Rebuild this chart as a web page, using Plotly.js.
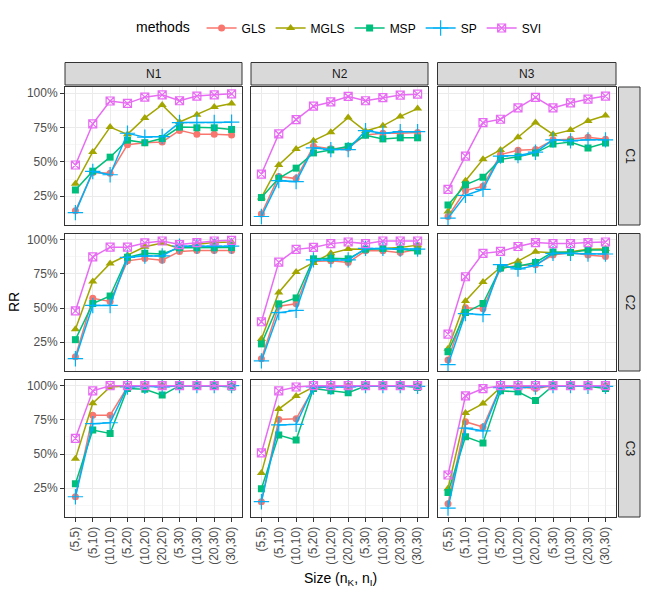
<!DOCTYPE html>
<html lang="en">
<head>
    <meta charset="UTF-8">
    <title>RR by size</title>
    <script src="https://cdn.plot.ly/plotly-3.0.1.min.js"></script>
    <style>
        body { margin: 0; background: #fff; }
    </style>
</head>
<body>

<div id="chart" style="width:648px;height:598px;"></div>

<script>
    // x categories and facet labels
    let sizes = ['(5,5)', '(5,10)', '(10,10)', '(5,20)', '(10,20)', '(20,20)', '(5,30)', '(10,30)', '(20,30)', '(30,30)'];
    let colLabels = ['N1', 'N2', 'N3'];
    let rowLabels = ['C1', 'C2', 'C3'];
    let methods = ['GLS', 'MGLS', 'MSP', 'SP', 'SVI'];

    // RR (%) per panel, panel order: C1/N1, C1/N2, C1/N3, C2/N1 ... C3/N3
    let rrGLS = [
        [14.3, 42.3, 41.6, 62.5, 63.9, 64.4, 72.9, 70, 70, 69.6],
        [12, 39.4, 37.8, 61.3, 59.6, 60.1, 69.6, 70.8, 70.8, 71.3],
        [10.2, 29.2, 32.3, 55.3, 58.4, 58.9, 66, 66.5, 67.9, 66.5],
        [14.5, 57.1, 54.8, 84.5, 86.2, 85, 91.4, 92.1, 92.1, 92.1],
        [13, 51.4, 53.1, 84, 84.5, 83.3, 91.9, 91.9, 90.5, 92.9],
        [12.1, 50.2, 49.5, 79, 81.2, 81.7, 88.8, 90.5, 88.8, 87.6],
        [18.8, 78.4, 78.4, 99, 100, 100, 100, 100, 100, 100],
        [15.2, 75.3, 75.8, 97.9, 99.5, 99.5, 100, 100, 100, 100],
        [13.6, 73.6, 69.8, 99, 99, 97.9, 100, 100, 100, 100]
    ];
    let rrMGLS = [
        [34, 57.2, 75.3, 70, 82, 91.4, 79, 84.3, 90, 92.4],
        [24, 47.7, 59.4, 65.3, 71.5, 82.2, 72.4, 76.2, 83.1, 88.8],
        [13.8, 36.3, 51.8, 58.7, 67.9, 78.6, 70, 73.1, 79.8, 83.8],
        [34.5, 69.5, 82.6, 88.6, 94.8, 97.6, 93.6, 96.7, 97.9, 98.3],
        [27.4, 61.4, 76.4, 82.9, 90, 93.1, 92.9, 93.6, 94.3, 96],
        [20.2, 55.2, 69, 79.8, 84.3, 91.2, 90.5, 91.2, 92.9, 93.1],
        [46.6, 87.2, 99, 99.8, 100, 100, 100, 100, 100, 100],
        [36.1, 82.9, 92.4, 99, 99.5, 99.8, 100, 100, 100, 99.5],
        [24.9, 80, 86.9, 98.6, 99.5, 99.5, 100, 100, 100, 100]
    ];
    let rrMSP = [
        [29.5, 43.2, 53.4, 65.8, 63.9, 67, 75.3, 74.8, 74.8, 73.6],
        [24, 38, 45.4, 56.5, 58.7, 61.3, 69.4, 66.7, 67.5, 67.5],
        [18.5, 33.3, 38.7, 51.8, 53.7, 56.5, 62.9, 64.4, 60.1, 63.7],
        [26.9, 53.3, 58.8, 87.1, 90, 89.5, 94, 94, 94, 94.3],
        [23.8, 53.1, 57.4, 86, 86.4, 86, 92.9, 93.6, 92.9, 91.7],
        [18.1, 46.7, 53.3, 79.3, 80.5, 83.3, 91, 90.7, 92.4, 92.4],
        [28.3, 67.5, 65.1, 97.9, 97.4, 93.1, 100, 100, 100, 99],
        [24.7, 63.9, 60.3, 97.9, 96.2, 94.8, 99.8, 100, 100, 98.6],
        [21.9, 62.7, 58, 96.2, 95.5, 89.1, 100, 100, 99.5, 97.9]
    ];
    let rrSP = [
        [13, 43, 40.6, 70.8, 68, 68.4, 78.6, 78.6, 78.6, 78.9],
        [10.2, 36.3, 35.6, 60.1, 58.9, 58.9, 72.7, 70.8, 72, 72],
        [9, 25.6, 30, 54.2, 54.6, 57, 66, 65.3, 66, 66],
        [13, 51.9, 51.9, 87.1, 88.1, 88.1, 95.2, 95.2, 95.2, 95.2],
        [11.4, 46.7, 48.3, 85.2, 85.2, 85.2, 93.6, 93.6, 93.1, 93.1],
        [8.6, 46, 45.2, 81.7, 78.6, 81, 90, 90, 89.5, 89.5],
        [18.8, 72.2, 72.9, 99, 99.5, 99, 100, 100, 100, 100],
        [15.2, 71.3, 71.7, 99, 99, 99, 100, 100, 100, 99.5],
        [10.5, 68.9, 67, 98.6, 98.6, 99, 100, 100, 99.5, 99.5]
    ];
    let rrSVI = [
        [47.7, 77.7, 94.3, 92.6, 97.1, 98.8, 94.5, 97.9, 98.8, 99.5],
        [41.1, 70.3, 80.8, 90.5, 93.6, 97.6, 94.5, 96.7, 98.6, 99.3],
        [30, 54.2, 78.6, 81, 89.3, 96.9, 89.3, 92.9, 95.7, 97.9],
        [47.9, 87.4, 94.5, 94.5, 97.6, 99, 96.4, 97.9, 99, 99.5],
        [40, 83.6, 92.9, 94.3, 97.1, 98.3, 97.1, 99, 99, 99],
        [31, 72.9, 90, 91.4, 95, 97.9, 97.1, 97.1, 97.9, 98.3],
        [61.5, 96.2, 100, 100, 100, 100, 100, 100, 100, 100],
        [50.8, 96.2, 99, 100, 100, 100, 100, 100, 100, 100],
        [34.7, 92.6, 97.9, 100, 100, 100, 100, 100, 100, 100]
    ];

    let rrByMethod = [rrGLS, rrMGLS, rrMSP, rrSP, rrSVI];
    let colors = ['#F8766D', '#A3A500', '#00BF7D', '#00B0F6', '#E76BF3'];
    let symbols = ['circle', 'triangle-up', 'square', 'cross-thin-open', 'square-x-open'];
    let markerSizes = [7, 8, 7, 11, 8];

    // panel geometry in pixels (648 x 598)
    let W = 648, H = 598;
    let colPx = [[65, 242], [251, 428], [437.5, 616]];
    let rowPx = [[87, 225], [233.5, 371], [379.5, 517]];
    let font = 'Liberation Sans, Arial, sans-serif';

    let data = [];
    let layout = {
        width: W,
        height: H,
        margin: {l: 0, r: 0, t: 0, b: 0},
        paper_bgcolor: '#ffffff',
        plot_bgcolor: '#ffffff',
        font: {family: font, size: 12, color: '#4D4D4D'},
        showlegend: true,
        legend: {
            orientation: 'h',
            x: 340 / W, xanchor: 'center',
            y: 1 - 28 / H, yanchor: 'middle',
            title: {text: 'methods ', side: 'left', font: {size: 14, color: '#000000'}},
            font: {size: 12, color: '#000000'},
            itemwidth: 30,
            traceorder: 'normal'
        },
        shapes: [],
        annotations: []
    };

    for (let r = 0; r < 3; r++) {
        for (let c = 0; c < 3; c++) {
            let p = r * 3 + c;
            let n = p + 1;
            let xName = 'xaxis' + (n === 1 ? '' : n);
            let yName = 'yaxis' + (n === 1 ? '' : n);
            let xRef = 'x' + (n === 1 ? '' : n);
            let yRef = 'y' + (n === 1 ? '' : n);

            layout[xName] = {
                domain: [colPx[c][0] / W, colPx[c][1] / W],
                anchor: yRef,
                type: 'category',
                categoryorder: 'array',
                categoryarray: sizes,
                range: [-0.6, 9.6],
                showgrid: true,
                gridcolor: '#EBEBEB',
                gridwidth: 1,
                zeroline: false,
                showline: true,
                mirror: true,
                linecolor: '#333333',
                linewidth: 1,
                ticks: r === 2 ? 'outside' : '',
                ticklen: 4,
                tickcolor: '#333333',
                tickangle: -90,
                showticklabels: r === 2,
                tickfont: {size: 12, color: '#4D4D4D'}
            };
            layout[yName] = {
                domain: [1 - rowPx[r][1] / H, 1 - rowPx[r][0] / H],
                anchor: xRef,
                range: [4, 104.5],
                tick0: 0,
                dtick: 25,
                ticksuffix: '%',
                showgrid: true,
                gridcolor: '#EBEBEB',
                gridwidth: 1,
                minor: {dtick: 12.5, showgrid: true, gridcolor: '#F4F4F4', gridwidth: 0.7},
                zeroline: false,
                showline: true,
                mirror: true,
                linecolor: '#333333',
                linewidth: 1,
                ticks: c === 0 ? 'outside' : '',
                ticklen: 4,
                tickcolor: '#333333',
                showticklabels: c === 0,
                tickfont: {size: 12, color: '#4D4D4D'}
            };

            for (let m = 0; m < methods.length; m++) {
                let isOpen = symbols[m].indexOf('open') >= 0;
                data.push({
                    x: sizes,
                    y: rrByMethod[m][p],
                    xaxis: xRef,
                    yaxis: yRef,
                    type: 'scatter',
                    mode: 'lines+markers',
                    name: methods[m],
                    legendgroup: methods[m],
                    showlegend: p === 0,
                    line: {color: colors[m], width: 1.5},
                    marker: {
                        color: colors[m],
                        symbol: symbols[m],
                        size: markerSizes[m],
                        line: {color: colors[m], width: isOpen ? 1.2 : 0}
                    },
                    hoverinfo: 'x+y+name'
                });
            }
        }
    }

    // top strips
    for (let c = 0; c < 3; c++) {
        layout.shapes.push({
            type: 'rect', xref: 'paper', yref: 'paper',
            x0: colPx[c][0] / W, x1: colPx[c][1] / W,
            y0: 1 - 85 / H, y1: 1 - 62.5 / H,
            fillcolor: '#D9D9D9', line: {color: '#333333', width: 1}
        });
        layout.annotations.push({
            text: colLabels[c], xref: 'paper', yref: 'paper',
            x: (colPx[c][0] + colPx[c][1]) / 2 / W, y: 1 - 74 / H,
            xanchor: 'center', yanchor: 'middle', showarrow: false,
            font: {size: 12, color: '#1A1A1A'}
        });
    }

    // right strips
    for (let r = 0; r < 3; r++) {
        layout.shapes.push({
            type: 'rect', xref: 'paper', yref: 'paper',
            x0: 618.5 / W, x1: 640 / W,
            y0: 1 - rowPx[r][1] / H, y1: 1 - rowPx[r][0] / H,
            fillcolor: '#D9D9D9', line: {color: '#333333', width: 1}
        });
        layout.annotations.push({
            text: rowLabels[r], xref: 'paper', yref: 'paper',
            x: 629.5 / W, y: 1 - (rowPx[r][0] + rowPx[r][1]) / 2 / H,
            xanchor: 'center', yanchor: 'middle', showarrow: false,
            textangle: 90,
            font: {size: 12, color: '#1A1A1A'}
        });
    }

    // axis titles
    layout.annotations.push({
        text: 'RR', xref: 'paper', yref: 'paper',
        x: 14 / W, y: 1 - 302 / H,
        xanchor: 'center', yanchor: 'middle', showarrow: false,
        textangle: -90,
        font: {size: 14, color: '#000000'}
    });
    layout.annotations.push({
        text: 'Size (n<sub>K</sub>, n<sub>I</sub>)', xref: 'paper', yref: 'paper',
        x: 340 / W, y: 1 - 579 / H,
        xanchor: 'center', yanchor: 'middle', showarrow: false,
        font: {size: 14, color: '#000000'}
    });

    Plotly.newPlot('chart', data, layout, {displayModeBar: false, staticPlot: true});
</script>

</body>
</html>
